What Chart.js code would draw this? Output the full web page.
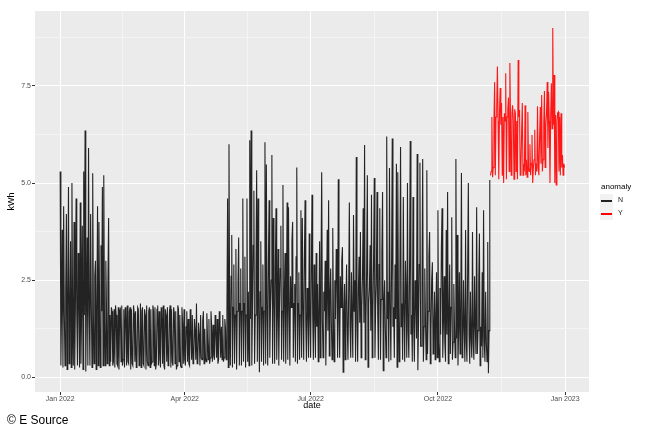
<!DOCTYPE html>
<html>
<head>
<meta charset="utf-8">
<script src="https://cdn.jsdelivr.net/npm/chart.js@4"></script>
<style>
  body { margin: 0; background: #fff; }
  #wrap { position: relative; width: 646px; height: 431px; font-family: "Liberation Sans", Arial, sans-serif; }
  .lg { position: absolute; white-space: nowrap; }
  .key { position: absolute; left: 600px; width: 13px; height: 13px; background: #F2F2F2; }
  .key i { position: absolute; left: 1px; top: 6px; width: 11px; height: 1.5px; }
</style>
</head>
<body>
<div id="wrap">
  <canvas id="chart" width="646" height="431"></canvas>
  <div class="lg" style="left:601px;top:182px;font-size:8px;color:#000;">anomaly</div>
  <div class="key" style="top:194px;"><i style="background:#222;"></i></div>
  <div class="key" style="top:207px;"><i style="background:#ff0000;"></i></div>
  <div class="lg" style="left:618px;top:196px;font-size:7px;color:#1a1a1a;">N</div>
  <div class="lg" style="left:618px;top:209px;font-size:7px;color:#1a1a1a;">Y</div>
  <div class="lg" style="left:7px;top:413px;font-size:12px;color:#000;">© E Source</div>
</div>
<script>
// kWh readings, two per day (every 12 h) starting 1 Jan 2022
const stepDays = 0.5;

// Jan 1 - Feb 6
const janN = [5.3, 0.3, 1.7, 3.8, 0.25, 4.4, 1.6, 0.3, 2.2, 4.2, 0.2, 1.8, 4.9, 0.35, 1.7, 3.5, 0.25, 5.0, 1.5, 0.3,
    4.0, 0.2, 1.8, 4.6, 1.6, 0.3, 3.2, 1.9, 0.25, 4.5, 0.35, 1.7, 3.9, 0.2, 5.3, 1.6, 6.35, 0.15, 1.8, 3.6,
    0.3, 5.9, 1.7, 0.3, 4.2, 1.9, 0.25, 5.25, 1.6, 0.35, 2.6, 3.0, 0.2, 1.7, 4.4, 0.3, 4.0, 1.8, 0.25, 3.4,
    1.7, 4.9, 0.3, 5.2, 1.6, 0.3, 3.0, 1.7, 0.35, 2.4, 4.1, 0.3, 1.6, 0.4];

// Feb 7 - May 1 (low band)
const springN = [1.8, 1.7, 0.3, 0.4, 1.75, 0.25, 1.85, 1.6, 0.35, 0.3, 1.8, 0.2, 1.7, 1.75, 0.4, 1.85, 0.3, 0.45, 1.75, 0.25,
    1.8, 1.7, 0.3, 1.85, 0.4, 0.35, 1.7, 1.8, 0.2, 1.75, 0.35, 0.3, 1.85, 1.65, 0.4, 1.7, 0.25, 0.35, 1.8, 1.75,
    0.3, 0.45, 1.9, 0.25, 1.7, 1.8, 0.35, 0.3, 1.75, 1.6, 0.2, 1.85, 0.4, 0.3, 1.7, 1.8, 0.25, 1.75, 0.35, 0.4,
    1.85, 1.7, 0.3, 1.8, 0.2, 0.35, 1.75, 1.85, 0.3, 1.7, 0.45, 0.25, 1.8, 1.7, 0.35, 1.85, 0.3, 0.2, 1.75, 1.6,
    0.4, 1.8, 0.3, 0.35, 1.7, 1.85, 0.25, 1.75, 0.4, 0.3, 1.8, 1.65, 0.35, 1.7, 0.2, 0.3, 1.85, 1.75, 0.4, 1.6,
    0.3, 0.25, 1.8, 1.4, 0.35, 1.75, 0.45, 0.3, 1.3, 1.7, 0.4, 1.5, 0.35, 0.3, 1.75, 1.2, 0.45, 1.6, 0.35, 0.4,
    1.5, 1.2, 0.45, 1.9, 0.35, 0.4, 1.4, 1.1, 0.3, 1.6, 0.5, 0.45, 1.45, 1.7, 0.35, 1.25, 0.5, 0.4, 1.65, 1.0,
    0.45, 1.5, 0.35, 0.5, 1.7, 1.3, 0.4, 1.35, 0.55, 0.45, 1.6, 1.2, 0.5, 1.5, 0.35, 0.45, 1.7, 1.4, 0.5, 1.3,
    0.45, 1.6, 0.4, 0.5, 1.5, 1.25, 0.45, 1.6];

// May 2 - Nov 7
const summerN = [4.6, 0.25, 6.0, 1.5, 0.3, 2.6, 3.66, 0.25, 1.8, 2.9, 0.35, 1.6, 3.3, 0.2, 1.7, 2.4, 3.6, 0.3, 1.9, 2.8,
    0.3, 1.7, 4.6, 0.4, 1.9, 3.1, 0.25, 1.6, 4.6, 0.4, 2.2, 0.3, 6.1, 1.5, 6.35, 0.3, 1.8, 3.4, 4.8, 0.35,
    1.6, 2.7, 5.33, 0.4, 4.6, 1.7, 0.13, 2.2, 3.5, 0.4, 1.8, 2.9, 0.3, 1.7, 6.05, 0.35, 5.48, 1.6, 0.3, 3.0,
    4.56, 0.5, 1.8, 2.5, 5.72, 0.35, 4.1, 1.9, 0.35, 2.8, 4.35, 0.45, 1.6, 3.3, 0.3, 1.8, 2.8, 3.9, 0.45, 1.7,
    4.95, 0.4, 2.0, 3.2, 0.35, 1.7, 4.5, 0.45, 4.38, 1.8, 0.3, 2.6, 1.8, 3.5, 4.0, 0.5, 1.9, 2.4, 0.4, 3.1,
    5.4, 0.35, 1.9, 2.7, 0.45, 1.6, 4.3, 0.5, 4.1, 1.7, 0.45, 3.0, 4.56, 1.4, 0.4, 2.3, 1.8, 0.5, 3.7, 1.5,
    0.5, 2.6, 4.7, 1.6, 0.45, 2.9, 1.5, 0.5, 3.2, 1.3, 2.4, 0.4, 1.7, 3.5, 0.5, 2.6, 5.28, 1.5, 0.5, 2.2,
    1.7, 3.0, 0.3, 1.8, 3.8, 1.2, 4.56, 0.55, 2.1, 2.8, 1.4, 0.45, 3.84, 1.6, 0.4, 2.5, 1.5, 3.3, 2.7, 0.5,
    5.1, 1.4, 0.5, 2.6, 1.8, 3.0, 3.35, 0.13, 1.6, 2.4, 0.45, 1.9, 2.9, 1.3, 0.45, 2.2, 4.5, 1.3, 0.5, 2.7,
    1.6, 0.5, 4.18, 1.7, 2.5, 0.4, 5.67, 1.5, 0.4, 2.2, 3.1, 1.4, 3.74, 0.5, 1.8, 2.6, 4.35, 1.4, 5.98, 0.45,
    1.4, 2.8, 5.2, 0.26, 1.9, 2.3, 3.4, 1.2, 4.7, 0.5, 1.6, 3.0, 5.13, 0.5, 1.8, 2.4, 4.77, 1.6, 0.45, 2.9,
    4.35, 0.45, 2.0, 3.2, 4.77, 0.17, 1.9, 2.5, 1.3, 0.5, 6.2, 1.5, 2.2, 0.4, 5.39, 1.7, 0.44, 2.8, 6.15, 1.3,
    1.8, 0.5, 2.9, 1.5, 5.5, 0.26, 5.28, 1.8, 0.4, 2.6, 5.93, 1.3, 1.9, 0.45, 4.64, 1.6, 0.4, 3.0, 2.2, 0.5,
    5.0, 1.2, 0.5, 2.7, 6.08, 1.1, 1.6, 0.4, 4.64, 1.3, 0.4, 2.5, 2.0, 1.0, 5.75, 0.18, 1.4, 2.9, 5.52, 0.8,
    0.8, 2.4, 5.62, 0.4, 1.3, 2.8, 1.5, 0.45, 5.33, 0.6, 1.7, 3.1, 3.74, 0.35, 1.2, 2.5, 2.96, 0.6, 1.2, 2.2,
    0.45, 1.6, 2.7, 0.5, 4.3, 0.9, 0.4, 2.3, 1.1, 3.3, 4.35, 0.5, 1.4, 2.6, 0.9, 0.4, 3.79, 1.1, 4.77, 0.35,
    1.4, 2.9, 0.6, 1.8, 4.12, 0.45, 0.9, 2.4, 1.3, 0.5, 5.62, 1.0, 3.66, 0.3, 1.2, 2.7, 0.6, 1.5, 5.26, 0.5,
    0.8, 2.5, 1.2, 0.4, 3.79, 0.9, 0.4, 2.8, 5.0, 1.1, 0.35, 2.2, 1.0, 0.5, 3.74, 0.9, 0.45, 2.6, 1.3, 0.6,
    4.38, 0.6, 1.2, 2.4, 3.7, 0.3, 1.3, 0.8, 2.7, 0.5, 4.3, 0.9, 0.4, 2.2, 0.9, 0.4, 3.48, 0.1, 1.2, 5.08];

// Nov 8 - Dec 31, flagged as anomaly
const anomalyY = [5.2, 5.3, 6.7, 5.15, 5.4, 6.6, 7.6, 5.2, 6.7, 6.9, 8.0, 6.6, 5.1, 6.8, 7.45, 6.5, 7.06, 5.2, 6.7, 5.0,
    6.8, 6.6, 7.83, 5.1, 6.7, 6.9, 7.2, 5.3, 8.09, 6.6, 5.2, 6.8, 7.0, 6.6, 5.1, 6.9, 6.8, 5.3, 6.6, 5.1,
    8.17, 6.7, 6.88, 5.2, 5.4, 6.3, 7.06, 5.2, 5.5, 5.3, 7.0, 5.2, 5.6, 5.15, 6.83, 5.4, 5.3, 6.0, 5.2, 5.5,
    6.24, 5.0, 5.4, 5.6, 6.37, 5.2, 5.5, 5.3, 6.98, 5.4, 5.2, 6.2, 6.96, 5.5, 7.27, 5.3, 5.6, 6.5, 7.37, 5.4,
    6.5, 6.8, 7.6, 5.9, 7.35, 6.6, 5.0, 6.7, 7.57, 6.4, 8.99, 6.5, 7.78, 5.0, 6.75, 4.95, 6.6, 6.8, 6.83, 5.3,
    6.7, 5.2, 6.8, 5.4, 5.72, 5.2, 5.5, 5.4];

const xTickDays = [0, 90, 181, 273, 365];
const xTickLabels = ['Jan 2022', 'Apr 2022', 'Jul 2022', 'Oct 2022', 'Jan 2023'];
const yTicks = [0, 2.5, 5, 7.5];

const normal = janN.concat(springN, summerN);
const firstAnomalyDay = normal.length * stepDays;
const pointsN = normal.map((v, i) => ({ x: i * stepDays, y: v }));
const pointsY = anomalyY.map((v, i) => ({ x: firstAnomalyDay + i * stepDays, y: v }));

// ggplot style minor breaks halfway between the major ones, kept inside the axis range
function withMinor(major, lo, hi) {
    const out = [];
    major.forEach((v, i) => {
        if (i > 0) out.push((major[i - 1] + v) / 2);
        out.push(v);
    });
    const step = major[major.length - 1] - major[major.length - 2];
    out.push(major[major.length - 1] + step / 2);
    return out.filter(v => v >= lo && v <= hi);
}

const isMajor = (list, v) => list.some(m => Math.abs(m - v) < 1e-6);

const panelBg = {
    id: 'panelBg',
    beforeDraw(chart) {
        const a = chart.chartArea;
        const ctx = chart.ctx;
        ctx.save();
        ctx.fillStyle = '#EBEBEB';
        ctx.fillRect(a.left, a.top, a.right - a.left, a.bottom - a.top);
        ctx.restore();
    }
};

const tickFont = { family: '"Liberation Sans", Arial, sans-serif', size: 7 };
const titleFont = { family: '"Liberation Sans", Arial, sans-serif', size: 9 };

new Chart(document.getElementById('chart'), {
    type: 'line',
    data: {
        datasets: [
            {
                label: 'N',
                data: pointsN,
                borderColor: 'rgba(0,0,0,0.85)',
                borderWidth: 1.1
            },
            {
                label: 'Y',
                data: pointsY,
                borderColor: 'rgba(255,0,0,0.9)',
                borderWidth: 1.1
            }
        ]
    },
    options: {
        responsive: false,
        animation: false,
        devicePixelRatio: 1,
        layout: { padding: { left: 0, top: 11, right: 57, bottom: 20 } },
        elements: { point: { radius: 0 }, line: { tension: 0 } },
        plugins: { legend: { display: false }, tooltip: { enabled: false } },
        scales: {
            x: {
                type: 'linear',
                min: -18.2,
                max: 382.2,
                afterBuildTicks(s) { s.ticks = withMinor(xTickDays, s.min, s.max).map(v => ({ value: v })); },
                afterFit(s) { s.height = 19; },
                ticks: {
                    autoSkip: false,
                    maxRotation: 0,
                    padding: 0,
                    color: '#4D4D4D',
                    font: tickFont,
                    callback: v => {
                        const i = xTickDays.indexOf(v);
                        return i >= 0 ? xTickLabels[i] : '';
                    }
                },
                grid: {
                    color: c => isMajor(xTickDays, c.tick.value) ? '#FFFFFF' : '#F4F4F4',
                    lineWidth: 1,
                    tickLength: 3,
                    tickColor: c => isMajor(xTickDays, c.tick.value) ? '#333333' : 'rgba(0,0,0,0)'
                },
                border: { display: false },
                title: { display: true, text: 'date', color: '#000', font: titleFont, padding: 0 }
            },
            y: {
                min: -0.38,
                max: 9.43,
                afterBuildTicks(s) { s.ticks = withMinor(yTicks, s.min, s.max).map(v => ({ value: v })); },
                afterFit(s) { s.width = 35; },
                ticks: {
                    autoSkip: false,
                    padding: 1,
                    color: '#4D4D4D',
                    font: tickFont,
                    callback: v => isMajor(yTicks, v) ? v.toFixed(1) : ''
                },
                grid: {
                    color: c => isMajor(yTicks, c.tick.value) ? '#FFFFFF' : '#F4F4F4',
                    lineWidth: 1,
                    tickLength: 3,
                    tickColor: c => isMajor(yTicks, c.tick.value) ? '#333333' : 'rgba(0,0,0,0)'
                },
                border: { display: false },
                title: { display: true, text: 'kWh', color: '#000', font: titleFont, padding: { top: 6, bottom: 0 } }
            }
        }
    },
    plugins: [panelBg]
});
</script>
</body>
</html>
